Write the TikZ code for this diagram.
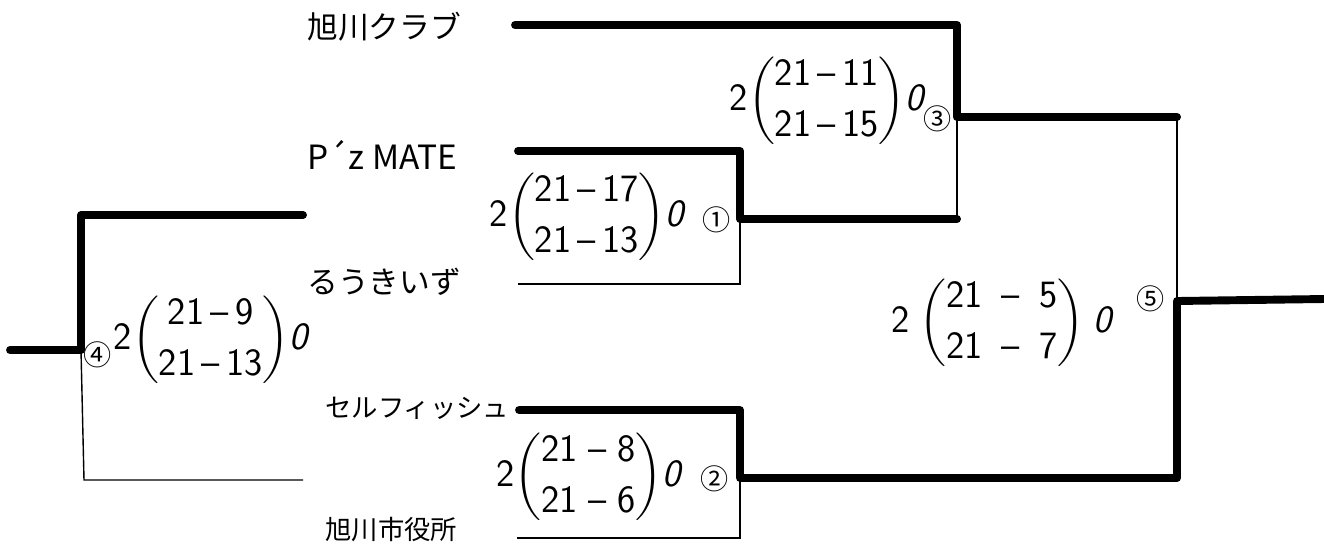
\documentclass[tikz,border=0pt]{standalone}
\usepackage{amsmath}
\usepackage{fontspec}
\newfontfamily\jpfont{Noto Sans CJK JP}
\usetikzlibrary{positioning}
\renewcommand{\arraystretch}{1.1}
\delimiterfactor=800
\delimitershortfall=12pt
\newcommand{\sets}[3][0pt]{2\hspace{#1}$\left(\begin{tabular}{@{}c@{}}#2\\#3\end{tabular}\right)$\hspace{#1}\textsl{0}}

\tikzset{
  win/.style={line width=4.5pt,line cap=round,line join=round},
  lose/.style={line width=0.8pt},
  team/.style={anchor=west,inner sep=0pt,font=\jpfont\fontsize{17.5}{19}\selectfont},
  result/.style={inner sep=0pt,font=\sffamily\fontsize{22}{26}\selectfont},
  matchno/.style={inner sep=0pt,font=\jpfont\fontsize{16}{18}\selectfont}
}

\begin{document}
\begin{tikzpicture}[x=0.02cm,y=-0.02cm]
\useasboundingbox (0,0) rectangle (1324,549);
% teams
\node[team] (asahikawaclub) at (307,27) {旭川クラブ};
\node[team,font=\jpfont\fontsize{19}{21}\selectfont] (pzmate) at (307,155) {P´z MATE};
\node[team] (rouquies) at (307,282) {るうきいず};
\node[team,font=\jpfont\fontsize{15}{17}\selectfont] (selfish) at (325,408) {セルフィッシュ};
\node[team,font=\jpfont\fontsize{15}{17}\selectfont] (cityhall) at (325,530) {旭川市役所};
% corners of the bracket
\coordinate (a1) at (515,25);  \coordinate (a2) at (957,25);
\coordinate (a3) at (957,117); \coordinate (a4) at (1177,117);
\coordinate (b1) at (518,151); \coordinate (b2) at (740,151);
\coordinate (b3) at (740,219); \coordinate (b4) at (957,219);
\coordinate (c1) at (518,284); \coordinate (c2) at (740,284);
\coordinate (d1) at (519,410); \coordinate (d2) at (740,410);
\coordinate (d3) at (740,478); \coordinate (d4) at (1177,478);
\coordinate (e1) at (517,538); \coordinate (e2) at (740,538);
\coordinate (f1) at (1177,301); \coordinate (f2) at (1324,299);
\coordinate (g1) at (303,215); \coordinate (g2) at (81,215);
\coordinate (g3) at (81,350);  \coordinate (g4) at (10,350);
\coordinate (h1) at (303,480); \coordinate (h2) at (84,480);
% winners
\draw[win] (a1) -- (a2) -- (a3) -- (a4);
\draw[win] (b1) -- (b2) -- (b3) -- (b4);
\draw[win] (d1) -- (d2) -- (d3) -- (d4) -- (f1) -- (f2);
\draw[win] (g1) -- (g2) -- (g3) -- (g4);
% losers
\draw[lose] (a3) -- (b4);
\draw[lose] (b3) -- (c2) -- (c1);
\draw[lose] (d3) -- (e2) -- (e1);
\draw[lose] (a4) -- (f1);
\draw[lose] (g3) -- (h2) -- (h1);
% scores
\node[result] (s1) at (588,217) {\sets{21\,--\,17}{21\,--\,13}};
\node[result] (s2) at (590,477) {\sets{21\;--\;8}{21\;--\;6}};
\node[result] (s3) at (828,101) {\sets{21\,--\,11}{21\,--\,15}};
\node[result] (s4) at (212,340) {\sets{21\,--\,9}{21\,--\,13}};
\node[result] (s5) at (1003,323) {\sets[0.25em]{21\enspace--\enspace5}{21\enspace--\enspace7}};
\node[matchno] (n1) at (717,220) {①};
\node[matchno] (n2) at (715,479) {②};
\node[matchno] (n3) at (938,119) {③};
\node[matchno] (n4) at (98,355) {④};
\node[matchno] (n5) at (1151,299) {⑤};
\end{tikzpicture}
\end{document}
